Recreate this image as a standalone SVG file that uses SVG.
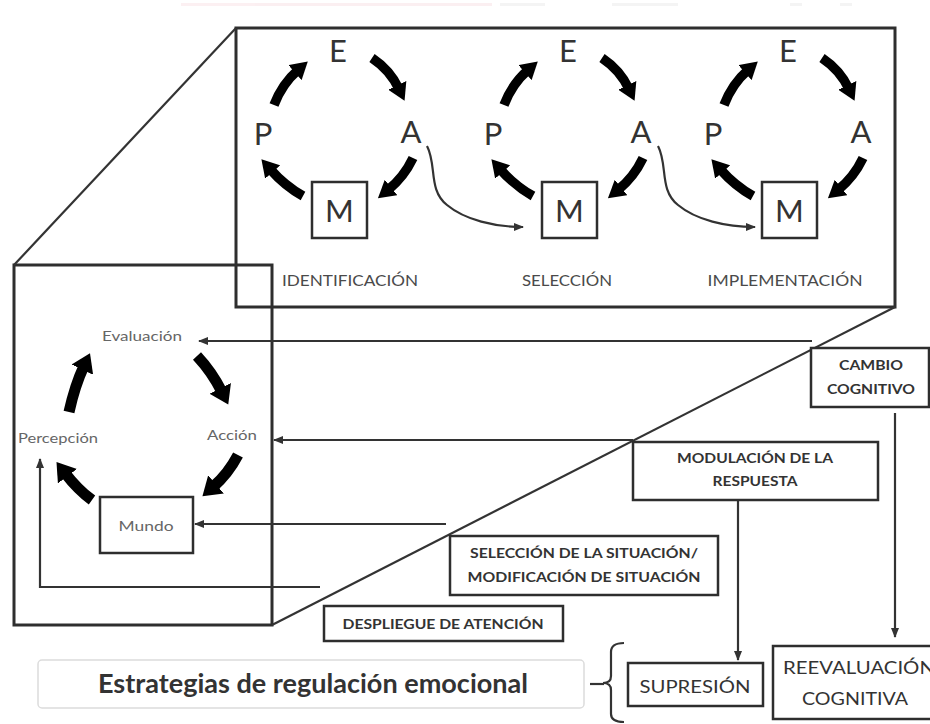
<svg xmlns="http://www.w3.org/2000/svg" width="930" height="724" viewBox="0 0 930 724">
<defs>
<style>
.frame{fill:none;stroke:#2e2e2e;stroke-width:3}
.box{fill:#fff;stroke:#2e2e2e;stroke-width:2.5}
.thick{fill:none;stroke:#000;stroke-width:9.5;marker-end:url(#headS)}
.thickL{fill:none;stroke:#000;stroke-width:11;marker-end:url(#headL)}
.conn{fill:none;stroke:#333;stroke-width:2.2;marker-end:url(#headT)}
.line{fill:none;stroke:#333;stroke-width:2.2}
text{font-family:Lato,"Liberation Sans",Arial,sans-serif}
.big{font-size:31px;fill:#333;text-anchor:middle}
.stage{font-size:15px;fill:#4a4a4a;text-anchor:middle}
.loop{font-size:13px;fill:#666;text-anchor:middle}
.strat{font-size:14px;font-weight:bold;fill:#333;text-anchor:middle}
.out{font-size:18px;fill:#333;text-anchor:middle}
</style>
<marker id="headS" markerUnits="userSpaceOnUse" viewBox="0 0 19 20" markerWidth="19" markerHeight="20" refX="4" refY="10" orient="auto"><path d="M0,0 L17,10 L0,20 z" fill="#000"/></marker>
<marker id="headL" markerUnits="userSpaceOnUse" viewBox="0 0 20 24" markerWidth="20" markerHeight="24" refX="4" refY="12" orient="auto"><path d="M0,0 L18,12 L0,24 z" fill="#000"/></marker>
<marker id="headT" markerUnits="userSpaceOnUse" viewBox="0 0 10 10" markerWidth="10" markerHeight="10" refX="9" refY="5" orient="auto"><path d="M0,1 L10,5 L0,9 z" fill="#333"/></marker>
</defs>
<rect width="930" height="724" fill="#fff"/>
<g id="header-faint" opacity="0.15">
<rect x="181" y="3" width="311" height="3" fill="#e89aa6"/>
<rect x="500" y="3" width="45" height="3" fill="#bbb"/>
<rect x="612" y="3" width="66" height="3" fill="#bbb"/>
<rect x="790" y="3" width="12" height="3" fill="#bbb"/>
<rect x="840" y="3" width="12" height="3" fill="#bbb"/>
</g>

<g id="frames">
<rect x="236" y="28" width="659" height="279" class="frame"/>
<rect x="14" y="265" width="258" height="360" class="frame"/>
<path d="M236,28 L14,265" class="line"/>
<path d="M895,307 L272,625" class="line"/>
</g>

<g id="cycle-identificacion">
<text x="338" y="62" class="big">E</text>
<text x="263" y="145" class="big">P</text>
<text x="411" y="143" class="big">A</text>
<rect x="312" y="182" width="55" height="56" class="box"/>
<text x="339.5" y="222" class="big">M</text>
<path d="M274,105 Q282,84 298,70" class="thick"/>
<path d="M372,58 Q390,70 399,89" class="thick"/>
<path d="M413,158 Q404,177 388,190" class="thick"/>
<path d="M303,196 Q285,186 270,169" class="thick"/>
<text x="350" y="286" class="stage" textLength="136" lengthAdjust="spacingAndGlyphs">IDENTIFICACIÓN</text>
</g>

<g id="cycle-seleccion" transform="translate(230,0)">
<text x="338" y="62" class="big">E</text>
<text x="263" y="145" class="big">P</text>
<text x="411" y="143" class="big">A</text>
<rect x="312" y="182" width="55" height="56" class="box"/>
<text x="339.5" y="222" class="big">M</text>
<path d="M274,105 Q282,84 298,70" class="thick"/>
<path d="M372,58 Q390,70 399,89" class="thick"/>
<path d="M413,158 Q404,177 388,190" class="thick"/>
<path d="M303,196 Q285,186 270,169" class="thick"/>
<text x="337" y="286" class="stage" textLength="90" lengthAdjust="spacingAndGlyphs">SELECCIÓN</text>
</g>

<g id="cycle-implementacion" transform="translate(450,0)">
<text x="338" y="62" class="big">E</text>
<text x="263" y="145" class="big">P</text>
<text x="411" y="143" class="big">A</text>
<rect x="312" y="182" width="55" height="56" class="box"/>
<text x="339.5" y="222" class="big">M</text>
<path d="M274,105 Q282,84 298,70" class="thick"/>
<path d="M372,58 Q390,70 399,89" class="thick"/>
<path d="M413,158 Q404,177 388,190" class="thick"/>
<path d="M303,196 Q285,186 270,169" class="thick"/>
<text x="335" y="286" class="stage" textLength="155" lengthAdjust="spacingAndGlyphs">IMPLEMENTACIÓN</text>
</g>

<g id="modal-cycle">
<text x="142" y="341" class="loop" textLength="80" lengthAdjust="spacingAndGlyphs">Evaluación</text>
<text x="232" y="440" class="loop" textLength="50" lengthAdjust="spacingAndGlyphs">Acción</text>
<text x="58" y="443" class="loop" textLength="80" lengthAdjust="spacingAndGlyphs">Percepción</text>
<rect x="100" y="497" width="93" height="56" class="box" stroke-width="2"/>
<text x="146" y="531" class="loop" textLength="55" lengthAdjust="spacingAndGlyphs">Mundo</text>
<path d="M69,412 Q75,385 84,366" class="thickL"/>
<path d="M197,356 Q212,372 222,392" class="thickL"/>
<path d="M238,455 Q228,474 213,487" class="thickL"/>
<path d="M92,500 Q78,490 65,473" class="thickL"/>
</g>

<g id="connectors">
<path d="M427,146 C437,165 428,190 447,205 C465,220 495,227 523,227" class="conn" stroke-width="1.6"/>
<path d="M658,146 C668,165 659,190 678,205 C696,220 726,227 755,227" class="conn" stroke-width="1.6"/>
<path d="M812,341 H199" class="conn"/>
<path d="M633,440 H274" class="conn"/>
<path d="M446,524 H195" class="conn"/>
<path d="M320,587 H40 V459" class="conn"/>
<path d="M895,413 V637" class="conn"/>
<path d="M738,500 V660" class="conn"/>
<path d="M590,684 H604" class="line" stroke-width="2.5"/>
<path d="M624,643 Q611,643 611,652 V676 Q611,683 603,683 Q611,683 611,690 V714 Q611,722 624,722" class="line" stroke-width="2.5"/>
</g>

<g id="cambio-cognitivo">
<rect x="811" y="348" width="118" height="59" class="box"/>
<text x="871" y="370" class="strat" textLength="64" lengthAdjust="spacingAndGlyphs">CAMBIO</text>
<text x="871" y="394" class="strat" textLength="88" lengthAdjust="spacingAndGlyphs">COGNITIVO</text>
</g>

<g id="modulacion-respuesta">
<rect x="633" y="442" width="245" height="58" class="box"/>
<text x="755" y="463" class="strat" textLength="156" lengthAdjust="spacingAndGlyphs">MODULACIÓN DE LA</text>
<text x="755" y="486" class="strat" textLength="85" lengthAdjust="spacingAndGlyphs">RESPUESTA</text>
</g>

<g id="seleccion-situacion">
<rect x="450" y="536" width="268" height="59" class="box"/>
<text x="584" y="558" class="strat" textLength="228" lengthAdjust="spacingAndGlyphs">SELECCIÓN DE LA SITUACIÓN/</text>
<text x="584" y="582" class="strat" textLength="233" lengthAdjust="spacingAndGlyphs">MODIFICACIÓN DE SITUACIÓN</text>
</g>

<g id="despliegue-atencion">
<rect x="324" y="606" width="239" height="35" class="box"/>
<text x="443" y="629" class="strat" textLength="201" lengthAdjust="spacingAndGlyphs">DESPLIEGUE DE ATENCIÓN</text>
</g>

<g id="estrategias">
<rect x="38" y="660" width="546" height="48" rx="4" fill="#fff" stroke="#dcdcdc" stroke-width="1.5"/>
<text x="313" y="693" font-size="26" font-weight="bold" fill="#333" text-anchor="middle" textLength="430" lengthAdjust="spacingAndGlyphs">Estrategias de regulación emocional</text>
</g>

<g id="supresion">
<rect x="628" y="663" width="135" height="43" class="box"/>
<text x="695" y="693" class="out" textLength="111" lengthAdjust="spacingAndGlyphs">SUPRESIÓN</text>
</g>

<g id="reevaluacion-cognitiva">
<rect x="773" y="646" width="180" height="73" class="box"/>
<text x="783" y="674" font-size="18" fill="#333" textLength="152" lengthAdjust="spacingAndGlyphs">REEVALUACIÓN</text>
<text x="855" y="705" class="out" textLength="106" lengthAdjust="spacingAndGlyphs">COGNITIVA</text>
</g>
</svg>
